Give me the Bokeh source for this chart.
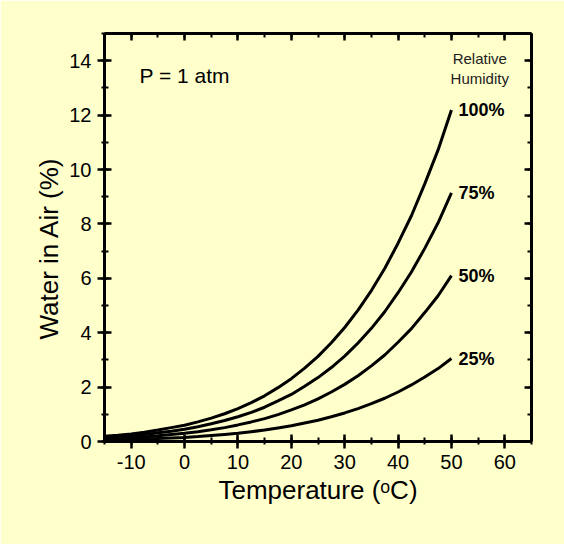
from bokeh.embed import file_html
from bokeh.models import ColumnDataSource, Range1d, LinearAxis, SingleIntervalTicker, Label
from bokeh.plotting import figure
from bokeh.resources import INLINE

# values (water vapour in air, % by volume, at 1 atm)
temperature = [-15, -12.5, -10, -7.5, -5, -2.5, 0, 2.5, 5, 7.5, 10, 12.5, 15, 17.5,
               20, 22.5, 25, 27.5, 30, 32.5, 35, 37.5, 40, 42.5, 45, 47.5, 50]
rh_100 = [0.19, 0.23, 0.28, 0.34, 0.42, 0.51, 0.60, 0.72, 0.86, 1.02, 1.21, 1.43, 1.68, 1.98,
          2.31, 2.70, 3.13, 3.63, 4.19, 4.83, 5.55, 6.36, 7.29, 8.30, 9.47, 10.72, 12.19]
rh_75 = [0.14, 0.17, 0.21, 0.26, 0.32, 0.38, 0.45, 0.54, 0.65, 0.77, 0.91, 1.07, 1.26, 1.49,
         1.73, 2.03, 2.35, 2.72, 3.14, 3.62, 4.16, 4.77, 5.47, 6.23, 7.10, 8.04, 9.14]
rh_50 = [0.10, 0.12, 0.14, 0.17, 0.21, 0.26, 0.30, 0.36, 0.43, 0.51, 0.61, 0.72, 0.84, 0.99,
         1.16, 1.35, 1.57, 1.82, 2.10, 2.42, 2.78, 3.18, 3.65, 4.15, 4.74, 5.36, 6.10]
rh_25 = [0.05, 0.06, 0.07, 0.09, 0.11, 0.13, 0.15, 0.18, 0.22, 0.26, 0.30, 0.36, 0.42, 0.50,
         0.58, 0.68, 0.78, 0.91, 1.05, 1.21, 1.39, 1.59, 1.82, 2.08, 2.37, 2.68, 3.05]
series_names = ["rh_100", "rh_75", "rh_50", "rh_25"]
series_labels = ["100%", "75%", "50%", "25%"]

x_ticks = [-10, 0, 10, 20, 30, 40, 50, 60]
x_tick_labels = ["-10", "0", "10", "20", "30", "40", "50", "60"]
y_ticks = [0, 2, 4, 6, 8, 10, 12, 14]
y_tick_labels = ["0", "2", "4", "6", "8", "10", "12", "14"]

BG = "#FFFFCC"
FONT = "Liberation Sans"


def make_axis(interval, ticks, labels):
    axis = LinearAxis(ticker=SingleIntervalTicker(interval=interval, num_minor_ticks=2))
    axis.axis_line_width = 3
    axis.major_tick_line_width = 2.5
    axis.minor_tick_line_width = 2
    axis.major_tick_in = 7
    axis.minor_tick_in = 4
    if labels:
        axis.major_tick_out = 7
        axis.minor_tick_out = 3
        axis.major_label_overrides = dict(zip(ticks, labels))
        axis.major_label_text_font = FONT
        axis.major_label_text_font_size = "20px"
        axis.major_label_text_color = "black"
        axis.axis_label_text_font = FONT
        axis.axis_label_text_font_size = "26px"
        axis.axis_label_text_font_style = "normal"
        axis.axis_label_text_color = "black"
    else:
        # top / right edges: inward ticks only, no numbers
        axis.major_tick_out = 0
        axis.minor_tick_out = 0
        axis.major_label_overrides = {t: "" for t in ticks}
        axis.major_label_text_font_size = "0px"
        axis.major_label_standoff = 0
    return axis


p = figure(
    frame_width=427, frame_height=408,
    x_range=Range1d(-15, 65), y_range=Range1d(0, 15),
    x_axis_location=None, y_axis_location=None,
    min_border_left=104, min_border_right=33, min_border_top=33, min_border_bottom=103,
    background_fill_color=BG, border_fill_color=BG, outline_line_color=None,
    toolbar_location=None, output_backend="svg",
)
p.grid.visible = False

bottom = make_axis(10, x_ticks, x_tick_labels)
bottom.major_label_standoff = 6
bottom.axis_label = "Temperature (\u1d52C)"
bottom.axis_label_standoff = 3
left = make_axis(2, y_ticks, y_tick_labels)
left.major_label_standoff = 6
left.axis_label = "Water in Air (%)\u00a0\u00a0\u00a0"
left.axis_label_standoff = 2
p.add_layout(bottom, "below")
p.add_layout(left, "left")
p.add_layout(make_axis(10, x_ticks, None), "above")
p.add_layout(make_axis(2, y_ticks, None), "right")

source = ColumnDataSource(dict(t=temperature, rh_100=rh_100, rh_75=rh_75, rh_50=rh_50, rh_25=rh_25))
for name, text in zip(series_names, series_labels):
    p.line(x="t", y=name, source=source, line_color="black", line_width=3)
    p.add_layout(Label(x=temperature[-1], y=source.data[name][-1], x_offset=7, text=text,
                       text_font=FONT, text_font_size="18px", text_font_style="bold",
                       text_baseline="middle", text_color="black"))

p.add_layout(Label(x=55.3, y=14.08, text="Relative", text_font=FONT, text_font_size="15px",
                   text_align="center", text_baseline="middle", text_color="#222222"))
p.add_layout(Label(x=55.3, y=13.35, text="Humidity", text_font=FONT, text_font_size="15px",
                   text_align="center", text_baseline="middle", text_color="#222222"))
p.add_layout(Label(x=-8.44, y=13.47, text="P = 1 atm", text_font=FONT, text_font_size="21px",
                   text_baseline="middle", text_color="black"))

open("out.html", "w").write(file_html(p, INLINE))
